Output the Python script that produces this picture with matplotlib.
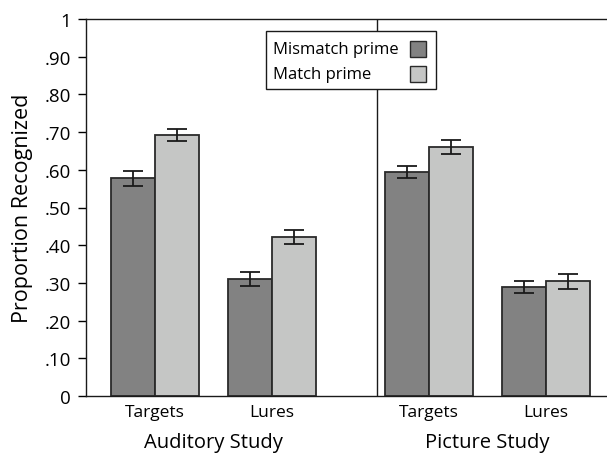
import matplotlib
matplotlib.use('Agg')
import matplotlib.pyplot as plt
from matplotlib.patches import Rectangle
import numpy as np

plt.rcParams['font.family'] = ['Open Sans', 'DejaVu Sans']

# data
conditions = ['Targets', 'Lures', 'Targets', 'Lures']
studies = ['Auditory Study', 'Picture Study']
series = ['Mismatch prime', 'Match prime']
mismatch = [0.578, 0.311, 0.594, 0.289]
mismatch_err = [0.020, 0.019, 0.016, 0.016]
match = [0.692, 0.422, 0.660, 0.304]
match_err = [0.016, 0.019, 0.019, 0.019]
yticks = [0, .1, .2, .3, .4, .5, .6, .7, .8, .9, 1]
ytick_labels = ['0', '.10', '.20', '.30', '.40', '.50', '.60', '.70', '.80', '.90', '1']

# layout (units of one bar width)
centers = np.array([1.57, 4.23, 7.8, 10.45])
divider = 6.61
width = 1.0
dark = '#828282'
light = '#c5c6c5'
edge = '#2a2a2a'
W, H = 607, 456

fig = plt.figure(figsize=(W / 100, H / 100), dpi=100)
ax = fig.add_axes([86 / W, 1 - 397 / H, 521 / W, 377 / H])

ekw = dict(elinewidth=1.3, capthick=1.3, capsize=7.5, ecolor='#1a1a1a')
ax.bar(centers - width / 2, mismatch, width, yerr=mismatch_err, color=dark,
       edgecolor=edge, linewidth=1.3, error_kw=ekw, zorder=2)
ax.bar(centers + width / 2, match, width, yerr=match_err, color=light,
       edgecolor=edge, linewidth=1.3, error_kw=ekw, zorder=2)

ax.axvline(divider, color='#1a1a1a', linewidth=1.0, zorder=1)

ax.set_ylim(0, 1)
ax.set_xlim(0, 521 / 44)
ax.set_yticks(yticks)
ax.set_yticklabels(ytick_labels, fontsize=13.5)
ax.tick_params(axis='y', direction='out', length=6, width=1, pad=5)
ax.set_xticks(centers)
ax.set_xticklabels(conditions, fontsize=12.5)
ax.tick_params(axis='x', length=0, pad=6)

for side in ['left', 'bottom', 'top']:
    ax.spines[side].set_linewidth(1.0)
    ax.spines[side].set_color('#1a1a1a')
ax.spines['right'].set_visible(False)

ax.set_ylabel('Proportion Recognized', fontsize=15.5, labelpad=8)

# study labels under the groups
for study, x in zip(studies, [(centers[0] + centers[1]) / 2, (centers[2] + centers[3]) / 2]):
    ax.text(x, -0.095, study, ha='center', va='top', fontsize=14.5,
            transform=ax.get_xaxis_transform())

# legend: labels left-aligned, swatches at the right
def fx(px):
    return px / W

def fy(py):
    return 1 - py / H

fig.patches.append(Rectangle((fx(266), fy(90)), fx(436) - fx(266), fy(32) - fy(90),
                             transform=fig.transFigure, facecolor='white',
                             edgecolor='#1a1a1a', linewidth=1.0, zorder=5))
for i, (name, col) in enumerate(zip(series, [dark, light])):
    yc = 50 + i * 25
    fig.text(fx(273), fy(yc), name, ha='left', va='center', fontsize=12, zorder=6)
    fig.patches.append(Rectangle((fx(410), fy(yc + 8)), fx(426) - fx(410), fy(yc - 8) - fy(yc + 8),
                                 transform=fig.transFigure, facecolor=col,
                                 edgecolor=edge, linewidth=1.0, zorder=6))

fig.savefig('out.png', dpi=100)
